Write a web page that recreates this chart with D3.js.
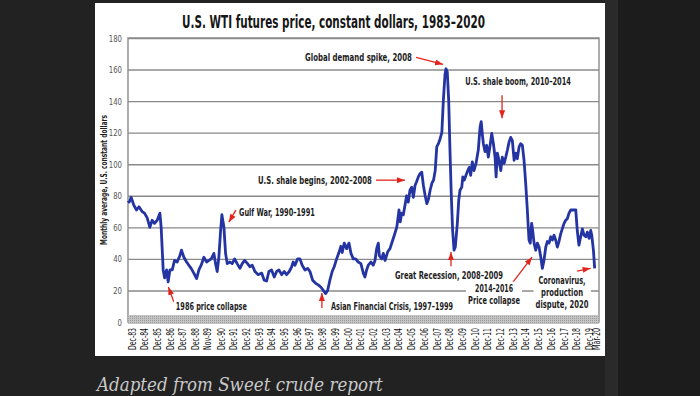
<!DOCTYPE html>
<html>
<head>
<meta charset="utf-8">
<script src="https://cdn.jsdelivr.net/npm/d3@7"></script>
<style>
  body { margin: 0; background: #222; }
  svg { display: block; }
</style>
</head>
<body>
<div id="viz"></div>
<script>
// monthly average price, constant dollars, [decimal year, value]
const priceSeries = [
  [1983.41, 77], [1983.5, 76], [1983.65, 79], [1983.86, 74], [1984.07, 71], [1984.26, 73],
  [1984.51, 70], [1984.7, 69], [1984.91, 66], [1985.12, 60], [1985.3, 64.5], [1985.49, 62.5],
  [1985.7, 64.5], [1985.91, 69], [1986.01, 60], [1986.17, 33], [1986.28, 28], [1986.44, 33],
  [1986.56, 25.5], [1986.7, 33], [1986.88, 33], [1987.06, 39], [1987.27, 38], [1987.48, 42],
  [1987.61, 45.5], [1987.8, 41], [1988.01, 38], [1988.19, 36], [1988.37, 34], [1988.58, 31],
  [1988.8, 27.5], [1988.98, 33], [1989.16, 36], [1989.37, 41], [1989.59, 38], [1989.77, 39],
  [1989.95, 40], [1990.16, 43.5], [1990.29, 37], [1990.42, 32], [1990.55, 41], [1990.69, 58],
  [1990.79, 68], [1990.95, 60], [1991.08, 43.5], [1991.21, 37], [1991.42, 38], [1991.6, 37],
  [1991.79, 40], [1991.99, 37], [1992.21, 34], [1992.39, 37], [1992.58, 39], [1992.81, 37],
  [1992.99, 35], [1993.18, 36], [1993.39, 32], [1993.65, 30], [1993.92, 31], [1994.12, 26.5],
  [1994.31, 26], [1994.49, 32], [1994.7, 33], [1994.91, 28.5], [1995.1, 32], [1995.28, 33],
  [1995.49, 30], [1995.7, 32], [1995.88, 30], [1996.09, 32], [1996.28, 35], [1996.4, 38],
  [1996.54, 36], [1996.75, 40], [1996.93, 40], [1997.11, 36], [1997.33, 33], [1997.54, 34],
  [1997.72, 32], [1997.93, 26.5], [1998.17, 24.5], [1998.37, 23.5], [1998.59, 22], [1998.77, 20],
  [1998.96, 18], [1999.11, 20], [1999.29, 26.5], [1999.47, 32], [1999.63, 35], [1999.82, 40],
  [2000.0, 44], [2000.16, 48], [2000.26, 44], [2000.42, 50], [2000.61, 46.5], [2000.79, 50],
  [2000.95, 43.5], [2001.13, 40], [2001.32, 40], [2001.52, 38], [2001.73, 37], [2001.92, 31],
  [2002.05, 28.5], [2002.18, 33], [2002.31, 36], [2002.52, 38], [2002.7, 36], [2002.84, 39],
  [2002.97, 46.5], [2003.1, 50], [2003.18, 42], [2003.37, 40], [2003.49, 43.5], [2003.63, 39],
  [2003.84, 44.5], [2004.02, 46.5], [2004.2, 51], [2004.36, 55], [2004.55, 60], [2004.63, 64.5],
  [2004.73, 71], [2004.83, 63.5], [2004.94, 69], [2005.07, 68], [2005.2, 74], [2005.33, 80],
  [2005.46, 76], [2005.59, 83.5], [2005.73, 85.5], [2005.86, 79], [2005.99, 86.5], [2006.12, 89],
  [2006.25, 92], [2006.38, 94], [2006.52, 95], [2006.65, 86.5], [2006.79, 80], [2006.92, 75],
  [2007.05, 78], [2007.18, 83.5], [2007.32, 88], [2007.45, 90], [2007.58, 96], [2007.7, 111],
  [2007.83, 113], [2007.96, 116], [2008.1, 120], [2008.22, 140.5], [2008.35, 157], [2008.43, 160.5],
  [2008.53, 158.5], [2008.64, 140.5], [2008.74, 109], [2008.84, 81.5], [2008.95, 58], [2009.06, 45.5],
  [2009.16, 47.5], [2009.32, 62.5], [2009.43, 77], [2009.53, 83.5], [2009.67, 85.5], [2009.75, 92],
  [2009.87, 90], [2010.0, 93], [2010.14, 96], [2010.26, 98], [2010.37, 93], [2010.5, 101.5],
  [2010.63, 96], [2010.79, 100.5], [2010.97, 109], [2011.11, 123.5], [2011.2, 127], [2011.3, 118],
  [2011.37, 113], [2011.5, 108], [2011.63, 112], [2011.76, 104.5], [2011.9, 112], [2012.03, 119.5],
  [2012.16, 113], [2012.29, 104.5], [2012.37, 92], [2012.47, 107], [2012.6, 102.5], [2012.74, 96],
  [2012.86, 104.5], [2013.0, 100.5], [2013.13, 104.5], [2013.26, 109], [2013.39, 114], [2013.52, 117],
  [2013.65, 115], [2013.79, 102.5], [2013.92, 107], [2014.04, 103.5], [2014.18, 111], [2014.31, 113],
  [2014.44, 112], [2014.57, 102.5], [2014.7, 88], [2014.83, 71], [2014.96, 52], [2015.06, 50],
  [2015.17, 62.5], [2015.25, 58], [2015.36, 50], [2015.49, 45.5], [2015.62, 50], [2015.75, 47.5],
  [2015.89, 41], [2016.01, 34], [2016.14, 39], [2016.28, 47.5], [2016.4, 51], [2016.54, 50],
  [2016.67, 54], [2016.8, 52], [2016.93, 55], [2017.06, 52], [2017.19, 47.5], [2017.32, 51],
  [2017.46, 56], [2017.58, 59], [2017.72, 62.5], [2017.85, 64.5], [2017.98, 65.5], [2018.11, 69],
  [2018.25, 71], [2018.37, 71], [2018.5, 71], [2018.64, 71], [2018.76, 58], [2018.89, 48.7],
  [2019.03, 54], [2019.16, 59], [2019.29, 55], [2019.43, 54], [2019.55, 57], [2019.69, 53],
  [2019.82, 58], [2019.9, 55], [2020.03, 45.5], [2020.13, 34],
];

const yTicks = [0, 20, 40, 60, 80, 100, 120, 140, 160, 180];

const xTickLabels = [
  "Dec-83", "Dec-84", "Dec-85", "Dec-86", "Dec-87", "Dec-88", "Nov-89", "Dec-90",
  "Dec-91", "Dec-92", "Dec-93", "Dec-94", "Dec-95", "Dec-96", "Dec-97", "Dec-98",
  "Dec-99", "Dec-00", "Dec-01", "Dec-02", "Dec-03", "Dec-04", "Dec-05", "Dec-06",
  "Dec-07", "Dec-08", "Dec-09", "Dec-10", "Dec-11", "Dec-12", "Dec-13", "Dec-14",
  "Dec-15", "Dec-16", "Dec-17", "Dec-18", "Dec-19", "Mar-20",
];

// annotation text anchored in data units: at = [year, value] of first baseline
const annotations = [
  { lines: ["Global demand spike, 2008"], widths: [107], at: [2001.54, 165.2], arrow: [[2006.07, 167.7], [2008.19, 163.3]] },
  { lines: ["U.S. shale boom, 2010–2014"], widths: [106], at: [2014.1, 150], arrow: [[2012.84, 143.7], [2012.84, 129.1]] },
  { lines: ["U.S. shale begins, 2002–2008"], widths: [114], at: [1998.11, 87.3], arrow: [[2002.92, 89.9], [2005.2, 89.9]] },
  { lines: ["Gulf War, 1990–1991"], widths: [76], at: [1995.12, 67.1], arrow: [[1991.89, 70.9], [1991.34, 63.3]] },
  { lines: ["1986 price collapse"], widths: [71], at: [1989.96, 7.6], arrow: [[1987.01, 12.7], [1986.58, 22.2]] },
  { lines: ["Asian Financial Crisis, 1997–1999"], widths: [122], at: [2004.18, 7.6], arrow: [[1998.66, 8.9], [1998.66, 18.4]] },
  { lines: ["Great Recession, 2008–2009"], widths: [108], at: [2008.66, 27.2], arrow: [[2008.82, 35.4], [2008.82, 44.3]] },
  { lines: ["2014–2016", "Price collapse"], widths: [38, 52], at: [2012.21, 19], arrow: [[2013.7, 25.3], [2015.2, 41.1]] },
  { lines: ["Coronavirus,", "production", "dispute, 2020"], widths: [47, 42, 53], at: [2017.56, 24.1], arrow: [[2018.74, 32.3], [2019.81, 34]] },
];

const config = {
  width: 700,
  height: 396,
  plotLeft: 128,
  plotRight: 599,
  plotTop: 38,
  plotBottom: 322,
  condensed: "'Liberation Sans Narrow', 'DejaVu Sans Condensed', 'Roboto Condensed', 'Liberation Sans', Arial, sans-serif",
  lineColor: "#2434a2",
  arrowColor: "#e3241d",
  gridColor: "#8a8a8a",
  minLabelGap: 7,
};

// squeeze a text horizontally to a given width (keeps its real box in sync)
const fitWidth = (node, width) => width / node.getComputedTextLength();

const svg = d3
  .select("#viz")
  .append("svg")
  .attr("width", config.width)
  .attr("height", config.height);

const defs = svg.append("defs");
defs
  .append("marker")
  .attr("id", "head")
  .attr("markerUnits", "userSpaceOnUse")
  .attr("markerWidth", 8)
  .attr("markerHeight", 6)
  .attr("refX", 8)
  .attr("refY", 3)
  .attr("orient", "auto")
  .append("path")
  .attr("d", "M0,0 L8,3 L0,6 Z")
  .attr("fill", config.arrowColor);

const band = defs
  .append("pattern")
  .attr("id", "band")
  .attr("patternUnits", "userSpaceOnUse")
  .attr("width", 2)
  .attr("height", 2);
band.append("rect").attr("width", 2).attr("height", 2).attr("fill", "#c4c4c4");
band.append("rect").attr("width", 1).attr("height", 1).attr("fill", "#9c9c9c");

// page frame
svg.append("rect").attr("x", 605).attr("y", 0).attr("width", 13).attr("height", config.height).attr("fill", "#2a2a2a");
svg.append("rect").attr("x", 618).attr("y", 0).attr("width", 82).attr("height", config.height).attr("fill", "#1c1c1c");
svg.append("rect").attr("x", 95).attr("y", 3).attr("width", 510).attr("height", 353).attr("fill", "#fff");

const x = d3.scaleLinear().domain([1983.4, 2020.47]).range([config.plotLeft, config.plotRight]);
const y = d3.scaleLinear().domain([0, 180]).range([config.plotBottom, config.plotTop]);

// grid + y labels
const yAxis = svg
  .append("g")
  .attr("transform", `translate(${config.plotLeft},0)`)
  .call(
    d3.axisLeft(y)
      .tickValues(yTicks)
      .tickSize(-(config.plotRight - config.plotLeft))
      .tickPadding(6)
  );
yAxis.select(".domain").remove();
yAxis.selectAll(".tick line").attr("stroke", config.gridColor).attr("stroke-width", 1.4);
yAxis
  .selectAll(".tick text")
  .attr("fill", "#555")
  .attr("font-family", config.condensed)
  .attr("font-size", 9.5)
  .each(function (d) {
    const s = fitWidth(this, String(d).length * 4.4);
    d3.select(this).attr("transform", `translate(-6,0) scale(${s},1) translate(6,0)`);
  });

svg
  .append("rect")
  .attr("x", config.plotLeft)
  .attr("y", config.plotTop)
  .attr("width", config.plotRight - config.plotLeft)
  .attr("height", config.plotBottom - config.plotTop)
  .attr("fill", "none")
  .attr("stroke", config.gridColor)
  .attr("stroke-width", 1.4);

// gray base band
svg
  .append("rect")
  .attr("x", config.plotLeft)
  .attr("y", y(0) - 7)
  .attr("width", config.plotRight - config.plotLeft)
  .attr("height", 9)
  .attr("fill", "url(#band)");

// x labels
const parseLabel = d3.timeParse("%b-%y");
const tickYears = xTickLabels.map((s) => {
  const d = parseLabel(s);
  return d.getFullYear() + d.getMonth() / 12;
});
// keep crowded last labels apart
const labelShift = [];
tickYears.forEach((t, i) => {
  let shift = -3;
  if (i > 0) {
    const prev = x(tickYears[i - 1]) + labelShift[i - 1];
    const gap = x(t) + shift - prev;
    if (gap < config.minLabelGap) shift += config.minLabelGap - gap;
  }
  labelShift.push(shift);
});

const xAxis = svg
  .append("g")
  .attr("transform", `translate(0,${y(0) + 2})`)
  .call(
    d3.axisBottom(x)
      .tickValues(tickYears)
      .tickFormat((d, i) => xTickLabels[i])
      .tickSize(0)
  );
xAxis.select(".domain").remove();
xAxis
  .selectAll(".tick text")
  .attr("x", 0)
  .attr("y", 0)
  .attr("dy", "0.35em")
  .attr("text-anchor", "end")
  .attr("fill", "#111")
  .attr("font-family", config.condensed)
  .attr("font-size", 10)
  .each(function (d, i) {
    const s = fitWidth(this, 22);
    d3.select(this).attr("transform", `translate(${labelShift[i]},4) rotate(-90) scale(${s},1)`);
  });

// annotation label backgrounds and text
const noteLayer = svg.append("g");
annotations.forEach((a) => {
  const g = noteLayer.append("g");
  const bg = g.append("rect").attr("fill", "#fff");
  a.lines.forEach((line, i) => {
    const t = g
      .append("text")
      .attr("text-anchor", "middle")
      .attr("font-family", config.condensed)
      .attr("font-weight", "bold")
      .attr("font-size", 10)
      .attr("fill", "#1d1d1d")
      .text(line);
    const s = fitWidth(t.node(), a.widths[i]);
    t.attr("transform", `translate(${x(a.at[0])},${y(a.at[1]) + i * 12}) scale(${s},1)`);
  });
  const box = g.node().getBBox();
  bg.attr("x", box.x - 2).attr("y", box.y - 1).attr("width", box.width + 4).attr("height", box.height + 2);
});

// price line
const line = d3
  .line()
  .x((d) => x(d[0]))
  .y((d) => y(d[1]));

svg
  .append("path")
  .datum(priceSeries)
  .attr("d", line)
  .attr("fill", "none")
  .attr("stroke", config.lineColor)
  .attr("stroke-width", 2.8)
  .attr("stroke-linejoin", "round");

// arrows
annotations.forEach((a) => {
  const [p0, p1] = a.arrow;
  svg
    .append("line")
    .attr("x1", x(p0[0]))
    .attr("y1", y(p0[1]))
    .attr("x2", x(p1[0]))
    .attr("y2", y(p1[1]))
    .attr("stroke", config.arrowColor)
    .attr("stroke-width", 1.3)
    .attr("marker-end", "url(#head)");
});

noteLayer.raise();

// titles
const title = svg
  .append("text")
  .attr("text-anchor", "middle")
  .attr("font-family", config.condensed)
  .attr("font-weight", "bold")
  .attr("font-size", 18)
  .attr("fill", "#161616")
  .text("U.S. WTI futures price, constant dollars, 1983–2020");
title.attr("transform", `translate(333.5,28) scale(${fitWidth(title.node(), 303)},1)`);

const yTitle = svg
  .append("text")
  .attr("dy", "0.35em")
  .attr("text-anchor", "middle")
  .attr("font-family", config.condensed)
  .attr("font-weight", "bold")
  .attr("font-size", 9.5)
  .attr("fill", "#1d1d1d")
  .text("Monthly average, U.S. constant dollars");
yTitle.attr("transform", `translate(104,180) rotate(-90) scale(${fitWidth(yTitle.node(), 130)},1)`);

const caption = svg
  .append("text")
  .attr("font-family", "'DejaVu Serif', 'Liberation Serif', serif")
  .attr("font-style", "italic")
  .attr("font-size", 18)
  .attr("fill", "#c9c9c9")
  .text("Adapted from Sweet crude report");
caption.attr("transform", `translate(97,391) scale(${fitWidth(caption.node(), 286)},1)`);
</script>
</body>
</html>
